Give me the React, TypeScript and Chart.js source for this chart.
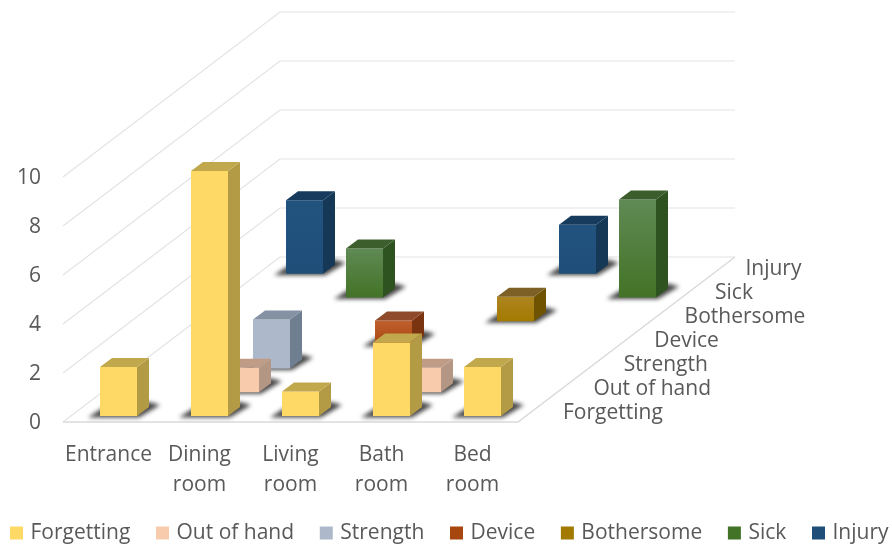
import React, { useEffect, useRef } from "react";
import { Chart, registerables } from "chart.js";

Chart.register(...registerables);

const categories = ["Entrance", ["Dining", "room"], ["Living", "room"], ["Bath", "room"], ["Bed", "room"]];
const seriesNames = ["Forgetting", "Out of hand", "Strength", "Device", "Bothersome", "Sick", "Injury"];
const forgetting = [2, 10, 1, 3, 2];
const outOfHand = [null, 1, null, 1, null];
const strength = [null, 2, null, null, null];
const device = [null, null, 1, null, null];
const bothersome = [null, null, null, 1, null];
const sick = [null, 2, null, null, 4];
const injury = [3, null, null, 2, null];
const seriesValues = [forgetting, outOfHand, strength, device, bothersome, sick, injury];
const yTicks = [0, 2, 4, 6, 8, 10];

const frontColors = ["#FFD966", "#F8CBAD", "#ADB9CA", "#A8460F", "#A37A00", "#437326", "#1F4E79"];
const frontTopColors = ["#FFD966", "#F8CBAD", "#ADB9CA", "#C0602F", "#AD8520", "#5F8A55", "#22537F"];
const sideColors = ["#B39A45", "#B39683", "#6F7F91", "#7A3510", "#6F5300", "#2E5220", "#163857"];
const topColors = ["#C2A84C", "#C09B86", "#8492A4", "#8F4A2B", "#7C6025", "#3B5E2C", "#173B5C"];

const TEXT = "#595959";
const FONT = "Open Sans";
const FONT_SIZE = 21;
const GRID = "#E3E3E3";
const DEPTH_X = 217;
const DEPTH_Y = 165;
const SERIES_DX = 31;
const SERIES_DY = 23.7;
const BAR_DX = 10;
const BAR_DY = 6;
const SIDE_DX = 12;
const SIDE_DY = 9;
const LEGEND_X = 10;
const LEGEND_Y = 533;

function poly(ctx: CanvasRenderingContext2D, pts: number[][], fill: string | CanvasGradient) {
  ctx.beginPath();
  pts.forEach((p, i) => (i ? ctx.lineTo(p[0], p[1]) : ctx.moveTo(p[0], p[1])));
  ctx.closePath();
  ctx.fillStyle = fill;
  ctx.fill();
}

const bars3d = {
  id: "bars3d",
  beforeDatasetsDraw(chart: any) {
    const { ctx, chartArea: a, scales } = chart;
    ctx.save();
    ctx.strokeStyle = GRID;
    ctx.lineWidth = 1.2;
    scales.y.ticks.forEach((t: any) => {
      const y = scales.y.getPixelForValue(t.value);
      ctx.beginPath();
      ctx.moveTo(a.left, y);
      ctx.lineTo(a.left + DEPTH_X, y - DEPTH_Y);
      ctx.lineTo(a.right + DEPTH_X, y - DEPTH_Y);
      ctx.stroke();
    });
    ctx.strokeStyle = "#DADADA";
    ctx.lineWidth = 1.5;
    ctx.beginPath();
    ctx.moveTo(a.left, a.bottom);
    ctx.lineTo(a.right, a.bottom);
    ctx.lineTo(a.right + DEPTH_X, a.bottom - DEPTH_Y);
    ctx.stroke();
    ctx.fillStyle = TEXT;
    ctx.font = `${FONT_SIZE}px "${FONT}"`;
    ctx.textAlign = "left";
    ctx.textBaseline = "middle";
    seriesNames.forEach((name, s) => {
      ctx.fillText(name, a.right + 45 + s * 30.4, a.bottom - 9 - s * 24);
    });
    // legend row
    let x = LEGEND_X;
    seriesNames.forEach((name, s) => {
      ctx.fillStyle = frontColors[s];
      ctx.fillRect(x, LEGEND_Y - 6.5, 13, 13);
      ctx.fillStyle = TEXT;
      ctx.fillText(name, x + 20.5, LEGEND_Y);
      x += 20.5 + ctx.measureText(name).width + 25.7;
    });
    ctx.restore();
  },
  beforeDatasetDraw(chart: any, args: any) {
    const { ctx } = chart;
    const s = args.index;
    ctx.save();
    args.meta.data.forEach((el: any, i: number) => {
      if (seriesValues[s][i] === null) return;
      const l = el.x - el.width / 2 + BAR_DX + s * SERIES_DX;
      const r = l + el.width;
      const b = el.base - BAR_DY - s * SERIES_DY;
      const t = el.y - BAR_DY - s * SERIES_DY;
      ctx.save();
      ctx.filter = "blur(2px)";
      poly(
        ctx,
        [
          [l - 12, b + 1.5],
          [r + 2, b + 1.5],
          [r + SIDE_DX + 11, b - SIDE_DY - 2],
          [r + SIDE_DX, b - SIDE_DY - 5],
          [l + 4, b - 9],
        ],
        "rgba(40,40,40,0.85)"
      );
      ctx.restore();
      const g = ctx.createLinearGradient(0, t, 0, b);
      g.addColorStop(0, frontTopColors[s]);
      g.addColorStop(1, frontColors[s]);
      poly(ctx, [[l, t], [r, t], [r, b], [l, b]], g);
      poly(ctx, [[r, t], [r + SIDE_DX, t - SIDE_DY], [r + SIDE_DX, b - SIDE_DY], [r, b]], sideColors[s]);
      poly(ctx, [[l, t], [l + SIDE_DX, t - SIDE_DY], [r + SIDE_DX, t - SIDE_DY], [r, t]], topColors[s]);
    });
    ctx.restore();
    return false;
  },
};

export default function App() {
  const ref = useRef<HTMLCanvasElement>(null);
  useEffect(() => {
    const chart = new Chart(ref.current as HTMLCanvasElement, {
      type: "bar",
      data: {
        labels: categories as any,
        datasets: seriesNames.map((name, s) => ({
          label: name,
          data: seriesValues[s] as any,
          backgroundColor: frontColors[s],
          borderWidth: 0,
          barThickness: 37,
          grouped: false,
        })),
      },
      options: {
        responsive: false,
        animation: false,
        layout: { padding: { top: 177, right: 374 } },
        plugins: {
          tooltip: { enabled: false },
          legend: { display: false },
        },
        scales: {
          x: {
            grid: { display: false },
            border: { display: false },
            ticks: {
              color: TEXT,
              padding: 10,
              maxRotation: 0,
              autoSkip: false,
              font: { family: FONT, size: FONT_SIZE, lineHeight: 1.43 },
            },
            afterFit(s: any) {
              s.height = 123;
            },
          },
          y: {
            min: 0,
            max: 10,
            afterBuildTicks(s: any) {
              s.ticks = yTicks.map((value) => ({ value }));
            },
            grid: { display: false, drawTicks: false },
            border: { display: false },
            ticks: {
              color: TEXT,
              padding: 22,
              labelOffset: 1.5,
              font: { family: FONT, size: FONT_SIZE },
            },
            afterFit(s: any) {
              s.width = 63;
            },
          },
        },
      },
      plugins: [bars3d],
    } as any);
    return () => chart.destroy();
  }, []);
  return (
    <canvas
      ref={ref}
      width={892}
      height={545}
      style={{ position: "absolute", left: 0, top: 0, display: "block", filter: "blur(0.4px)" }}
    />
  );
}
